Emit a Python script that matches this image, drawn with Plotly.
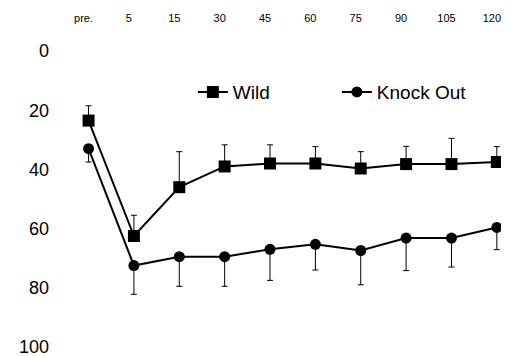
import plotly.graph_objects as go

categories = ["pre.", "5", "15", "30", "45", "60", "75", "90", "105", "120"]
wild = [23.5, 62.5, 46, 39, 38, 38, 39.7, 38.2, 38.2, 37.5]
wild_err = [5, 7, 12, 7.3, 6.3, 5.7, 5.7, 6, 8.7, 5.2]
ko = [33, 72.5, 69.5, 69.5, 67, 65.3, 67.4, 63.2, 63.2, 59.6]
ko_err = [4.5, 9.7, 10, 10, 10.5, 8.7, 11.6, 11, 9.8, 7.5]
y_ticks = [0, 20, 40, 60, 80, 100]

fig = go.Figure()
fig.add_trace(go.Scatter(
    x=categories, y=wild, name="Wild", mode="lines+markers",
    line=dict(color="black", width=2),
    marker=dict(symbol="square", size=12, color="black"),
    error_y=dict(type="data", symmetric=False, array=[0]*len(wild), arrayminus=wild_err,
                 color="black", thickness=1, width=3),
))
fig.add_trace(go.Scatter(
    x=categories, y=ko, name="Knock Out", mode="lines+markers",
    line=dict(color="black", width=2),
    marker=dict(symbol="circle", size=11, color="black"),
    error_y=dict(type="data", symmetric=False, array=ko_err, arrayminus=[0]*len(ko),
                 color="black", thickness=1, width=3),
))

font_family = "Liberation Sans, Arial, Helvetica, sans-serif"
# the page body adds an 8px offset, so the figure is 8px smaller than the window
fig.update_layout(
    template="none",
    width=501, height=348,
    margin=dict(l=42, r=4, t=17, b=4, autoexpand=False),
    paper_bgcolor="white", plot_bgcolor="white",
    font=dict(family=font_family, color="black"),
    showlegend=True,
    legend=dict(orientation="h", x=0.314, y=0.795, xanchor="left", yanchor="middle",
                font=dict(size=19, family=font_family, color="black"),
                bgcolor="rgba(0,0,0,0)", borderwidth=0,
                itemwidth=30, entrywidth=99, entrywidthmode="pixels"),
    xaxis=dict(type="category", side="top", range=[-0.85, 9.18], automargin=False,
               showgrid=False, zeroline=False, showline=False, ticks="",
               ticklabeloverflow="allow", ticklabelshift=-5,
               tickfont=dict(size=11, family=font_family, color="black")),
    yaxis=dict(range=[101.7, -8.8], tickvals=y_ticks, automargin=False,
               showgrid=False, zeroline=False, showline=False, ticks="",
               ticklabeloverflow="allow",
               tickfont=dict(size=18, family=font_family, color="black")),
)

fig.write_html("out.html")
